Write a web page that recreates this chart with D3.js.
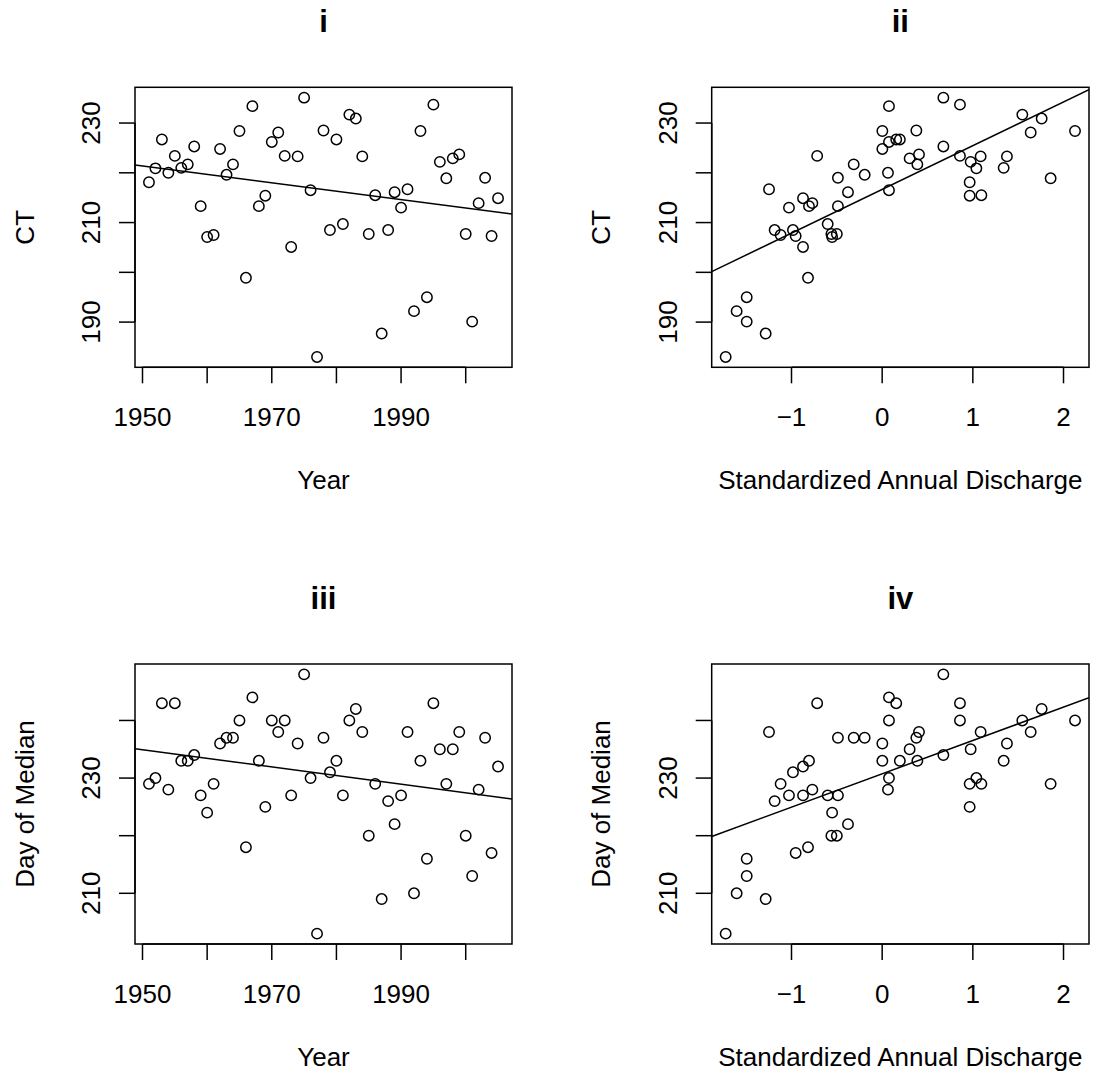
<!DOCTYPE html>
<html>
<head>
<meta charset="utf-8">
<script src="https://cdn.jsdelivr.net/npm/d3@7"></script>
<style>
  body { margin: 0; background: #fff; }
  svg { display: block; font-family: "Liberation Sans", Arial, Helvetica, sans-serif; }
</style>
</head>
<body>
<div id="chart"></div>
<script>
// yearly series
var years = [1951,1952,1953,1954,1955,1956,1957,1958,1959,1960,
             1961,1962,1963,1964,1965,1966,1967,1968,1969,1970,
             1971,1972,1973,1974,1975,1976,1977,1978,1979,1980,
             1981,1982,1983,1984,1985,1986,1987,1988,1989,1990,
             1991,1992,1993,1994,1995,1996,1997,1998,1999,2000,
             2001,2002,2003,2004,2005];

var ct = [218.1,220.9,226.7,220.0,223.4,221.0,221.7,225.3,213.3,207.1,
          207.5,224.8,219.6,221.7,228.4,198.9,233.4,213.3,215.4,226.2,
          228.1,223.4,205.1,223.3,235.1,216.5,183.0,228.5,208.5,226.7,
          209.7,231.7,230.9,223.3,207.7,215.5,187.7,208.5,216.1,213.0,
          216.7,192.2,228.4,195.0,233.7,222.2,218.9,222.9,223.7,207.7,
          190.1,213.9,219.0,207.3,214.9];

var dayOfMedian = [229,230,243,228,243,233,233,234,227,224,
                   229,236,237,237,240,218,244,233,225,240,
                   238,240,227,236,248,230,203,237,231,233,
                   227,240,242,238,220,229,209,226,222,227,
                   238,210,233,216,243,235,229,235,238,220,
                   213,228,237,217,232];

var discharge = [0.965,1.039,0.155,0.064,-0.717,1.340,0.388,0.675,-0.488,-0.552,
                 -1.120,0.002,-0.193,-0.314,2.127,-0.818,0.075,-0.807,0.965,0.075,
                 1.638,0.858,-0.873,1.376,0.675,0.075,-1.726,0.377,-0.984,0.195,
                 -0.601,1.546,1.759,1.086,-0.560,1.094,-1.285,-1.186,-0.377,-1.028,
                 -1.248,-1.605,0.002,-1.494,0.858,0.976,1.858,0.303,0.406,-0.500,
                 -1.494,-0.770,-0.488,-0.954,-0.873];

// axis ticks and which of them get a label
var yearTicks = [1950,1960,1970,1980,1990,2000];
var yearLabels = [1950,1970,1990];
var qTicks = [-1,0,1,2];
var qLabels = [-1,0,1,2];
var ctTicks = [190,200,210,220,230];
var ctLabels = [190,210,230];
var domTicks = [210,220,230,240];
var domLabels = [210,230];

var W = 1094, H = 1076;
var svg = d3.select("#chart").append("svg")
    .attr("width", W)
    .attr("height", H);

var cols = [[135, 512], [711.7, 1089]];
var rows = [[87.3, 367.3], [664, 944]];

var panels = [
    {title: "i",   x: years,     y: ct,          xlab: "Year", ylab: "CT",
     xt: yearTicks, xl: yearLabels, yt: ctTicks,  yl: ctLabels,  c: 0, r: 0},
    {title: "ii",  x: discharge, y: ct,          xlab: "Standardized Annual Discharge", ylab: "CT",
     xt: qTicks,    xl: qLabels,    yt: ctTicks,  yl: ctLabels,  c: 1, r: 0},
    {title: "iii", x: years,     y: dayOfMedian, xlab: "Year", ylab: "Day of Median",
     xt: yearTicks, xl: yearLabels, yt: domTicks, yl: domLabels, c: 0, r: 1},
    {title: "iv",  x: discharge, y: dayOfMedian, xlab: "Standardized Annual Discharge", ylab: "Day of Median",
     xt: qTicks,    xl: qLabels,    yt: domTicks, yl: domLabels, c: 1, r: 1}
];

// R style range: data extent padded by 4% each side
function padded(v) {
    var e = d3.extent(v);
    var d = (e[1] - e[0]) * 0.04;
    return [e[0] - d, e[1] + d];
}

function fitLine(xs, ys) {
    var mx = d3.mean(xs), my = d3.mean(ys);
    var sxy = 0, sxx = 0;
    xs.forEach(function(x, i) {
        sxy += (x - mx) * (ys[i] - my);
        sxx += (x - mx) * (x - mx);
    });
    var b = sxy / sxx;
    return {a: my - b * mx, b: b};
}

function fmt(v) {
    return d3.format("d")(v);   // gives the unicode minus for negatives
}

panels.forEach(function(p, k) {
    var x0 = cols[p.c][0], x1 = cols[p.c][1];
    var y0 = rows[p.r][0], y1 = rows[p.r][1];

    var x = d3.scaleLinear().domain(padded(p.x)).range([x0, x1]);
    var y = d3.scaleLinear().domain(padded(p.y)).range([y1, y0]);

    var g = svg.append("g");

    svg.append("clipPath").attr("id", "clip" + k)
        .append("rect")
        .attr("x", x0).attr("y", y0)
        .attr("width", x1 - x0).attr("height", y1 - y0);

    // points
    g.selectAll("circle")
        .data(p.x.map(function(v, i) { return [v, p.y[i]]; }))
        .enter().append("circle")
        .attr("cx", function(d) { return x(d[0]); })
        .attr("cy", function(d) { return y(d[1]); })
        .attr("r", 5.2)
        .style("fill", "none")
        .style("stroke", "#000")
        .style("stroke-width", 1.5);

    // least squares line, clipped to the plot box like abline
    var fit = fitLine(p.x, p.y);
    var dom = x.domain();
    g.append("line")
        .attr("clip-path", "url(#clip" + k + ")")
        .attr("x1", x(dom[0])).attr("y1", y(fit.a + fit.b * dom[0]))
        .attr("x2", x(dom[1])).attr("y2", y(fit.a + fit.b * dom[1]))
        .style("stroke", "#000")
        .style("stroke-width", 1.5);

    // box
    g.append("rect")
        .attr("x", x0).attr("y", y0)
        .attr("width", x1 - x0).attr("height", y1 - y0)
        .style("fill", "none")
        .style("stroke", "#000")
        .style("stroke-width", 1.5);

    // x axis: ticks hang 16px under the box, line across first to last tick
    var xa = g.append("g").attr("transform", "translate(0," + y1 + ")");
    xa.append("line")
        .attr("x1", x(p.xt[0])).attr("x2", x(p.xt[p.xt.length - 1]))
        .attr("y1", 0).attr("y2", 0)
        .style("stroke", "#000").style("stroke-width", 1.5);
    xa.selectAll(".tk").data(p.xt).enter().append("line")
        .attr("x1", function(d) { return x(d); })
        .attr("x2", function(d) { return x(d); })
        .attr("y1", 0).attr("y2", 16)
        .style("stroke", "#000").style("stroke-width", 1.5);
    xa.selectAll("text").data(p.xl).enter().append("text")
        .attr("x", function(d) { return x(d); })
        .attr("y", 59)
        .attr("text-anchor", "middle")
        .style("font-size", "26px")
        .text(fmt);

    // y axis
    var ya = g.append("g").attr("transform", "translate(" + x0 + ",0)");
    ya.append("line")
        .attr("x1", 0).attr("x2", 0)
        .attr("y1", y(p.yt[0])).attr("y2", y(p.yt[p.yt.length - 1]))
        .style("stroke", "#000").style("stroke-width", 1.5);
    ya.selectAll(".tk").data(p.yt).enter().append("line")
        .attr("x1", -16).attr("x2", 0)
        .attr("y1", function(d) { return y(d); })
        .attr("y2", function(d) { return y(d); })
        .style("stroke", "#000").style("stroke-width", 1.5);
    ya.selectAll("text").data(p.yl).enter().append("text")
        .attr("transform", function(d) { return "translate(-35," + y(d) + ") rotate(-90)"; })
        .attr("text-anchor", "middle")
        .style("font-size", "26px")
        .text(fmt);

    // labels and title
    var cx = (x0 + x1) / 2, cy = (y0 + y1) / 2;
    g.append("text")
        .attr("x", cx).attr("y", y1 + 122)
        .attr("text-anchor", "middle")
        .style("font-size", "26px")
        .text(p.xlab);
    g.append("text")
        .attr("transform", "translate(" + (x0 - 101.5) + "," + cy + ") rotate(-90)")
        .attr("text-anchor", "middle")
        .style("font-size", "26px")
        .text(p.ylab);
    g.append("text")
        .attr("x", cx).attr("y", y0 - 55)
        .attr("text-anchor", "middle")
        .style("font-size", "31px")
        .style("font-weight", "bold")
        .text(p.title);
});
</script>
</body>
</html>
